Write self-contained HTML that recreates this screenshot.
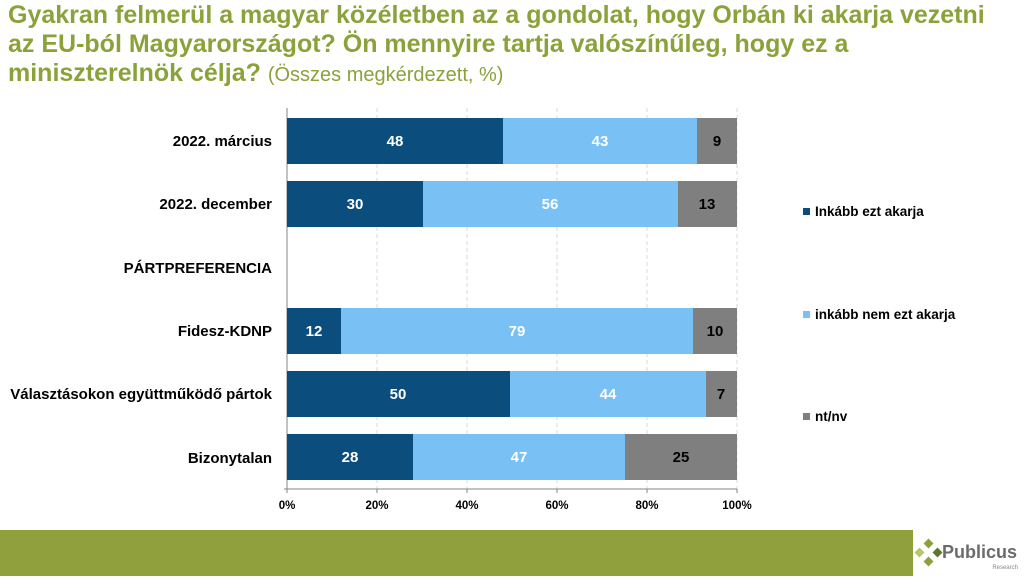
<!DOCTYPE html>
<html><head><meta charset="utf-8"><style>
body{margin:0;width:1024px;height:576px;background:#fff;overflow:hidden;font-family:"Liberation Sans",sans-serif}
</style></head><body>
<svg width="1024" height="576" xmlns="http://www.w3.org/2000/svg" font-family="Liberation Sans, sans-serif">
<g fill="#8BA23A" font-weight="bold" font-size="25">
<text x="8" y="23">Gyakran felmerül a magyar közéletben az a gondolat, hogy Orbán ki akarja vezetni</text>
<text x="8" y="52">az EU-ból Magyarországot? Ön mennyire tartja valószínűleg, hogy ez a</text>
<text x="8" y="81">miniszterelnök célja? <tspan font-weight="normal" font-size="20">(Összes megkérdezett, %)</tspan></text>
</g>
<g stroke="#d9d9d9" stroke-dasharray="4,3">
<line x1="377" y1="108" x2="377" y2="489"/><line x1="467" y1="108" x2="467" y2="489"/>
<line x1="557" y1="108" x2="557" y2="489"/><line x1="647" y1="108" x2="647" y2="489"/>
<line x1="737" y1="108" x2="737" y2="489"/>
</g>
<g stroke="#868686">
<line x1="287" y1="108" x2="287" y2="489"/><line x1="284" y1="489" x2="737" y2="489"/>
<line x1="377" y1="489" x2="377" y2="493"/><line x1="467" y1="489" x2="467" y2="493"/>
<line x1="557" y1="489" x2="557" y2="493"/><line x1="647" y1="489" x2="647" y2="493"/>
<line x1="737" y1="489" x2="737" y2="493"/><line x1="287" y1="489" x2="287" y2="493"/>
</g>
<g font-size="11.5" font-weight="bold" fill="#000" text-anchor="middle">
<text x="287" y="509">0%</text><text x="377" y="509">20%</text><text x="467" y="509">40%</text>
<text x="557" y="509">60%</text><text x="647" y="509">80%</text><text x="737" y="509">100%</text>
</g>
<g font-size="15" font-weight="bold" fill="#000" text-anchor="end">
<text x="272" y="146">2022. március</text>
<text x="272" y="209">2022. december</text>
<text x="272" y="273">PÁRTPREFERENCIA</text>
<text x="272" y="336">Fidesz-KDNP</text>
<text x="272" y="399">Választásokon együttműködő pártok</text>
<text x="272" y="463">Bizonytalan</text>
</g>
<g font-size="15" font-weight="bold" text-anchor="middle">
<rect x="287" y="118" width="216" height="46" fill="#0B4D7C"/><rect x="503" y="118" width="194" height="46" fill="#79C0F4"/><rect x="697" y="118" width="40" height="46" fill="#7F7F7F"/>
<text x="395" y="146" fill="#fff">48</text><text x="600" y="146" fill="#fff">43</text><text x="717" y="146">9</text>
<rect x="287" y="181" width="136" height="46" fill="#0B4D7C"/><rect x="423" y="181" width="255" height="46" fill="#79C0F4"/><rect x="678" y="181" width="59" height="46" fill="#7F7F7F"/>
<text x="355" y="209" fill="#fff">30</text><text x="550" y="209" fill="#fff">56</text><text x="707" y="209">13</text>
<rect x="287" y="308" width="54" height="46" fill="#0B4D7C"/><rect x="341" y="308" width="352" height="46" fill="#79C0F4"/><rect x="693" y="308" width="44" height="46" fill="#7F7F7F"/>
<text x="314" y="336" fill="#fff">12</text><text x="517" y="336" fill="#fff">79</text><text x="715" y="336">10</text>
<rect x="287" y="371" width="223" height="46" fill="#0B4D7C"/><rect x="510" y="371" width="196" height="46" fill="#79C0F4"/><rect x="706" y="371" width="31" height="46" fill="#7F7F7F"/>
<text x="398" y="399" fill="#fff">50</text><text x="608" y="399" fill="#fff">44</text><text x="721" y="399">7</text>
<rect x="287" y="434" width="126" height="46" fill="#0B4D7C"/><rect x="413" y="434" width="212" height="46" fill="#79C0F4"/><rect x="625" y="434" width="112" height="46" fill="#7F7F7F"/>
<text x="350" y="462" fill="#fff">28</text><text x="519" y="462" fill="#fff">47</text><text x="681" y="462">25</text>
</g>
<g font-size="13.5" font-weight="bold" fill="#000">
<rect x="803" y="208" width="7" height="7" fill="#0B4D7C"/><text x="815" y="216">Inkább ezt akarja</text>
<rect x="803" y="311" width="7" height="7" fill="#79C0F4"/><text x="815" y="319">inkább nem ezt akarja</text>
<rect x="803" y="413" width="7" height="7" fill="#7F7F7F"/><text x="815" y="421">nt/nv</text>
</g>
<rect x="0" y="530" width="913" height="46" fill="#8FA03C"/>
<g transform="translate(930,552)" fill="#8BA23A">
<rect x="-5" y="-12" width="7" height="7" transform="rotate(45 -1.5 -8.5)"/>
<rect x="4" y="-3" width="7" height="7" transform="rotate(45 7.5 0.5)" fill="#5a7a2a"/>
<rect x="-5" y="6" width="7" height="7" transform="rotate(45 -1.5 9.5)"/>
<rect x="-14" y="-3" width="7" height="7" transform="rotate(45 -10.5 0.5)" fill="#b6c76a"/>
</g>
<text x="942" y="558" font-size="18" font-weight="bold" fill="#6b6b6b">Publicus</text>
<text x="1018" y="569" font-size="6" fill="#888" text-anchor="end">Research</text>
</svg>
</body></html>
